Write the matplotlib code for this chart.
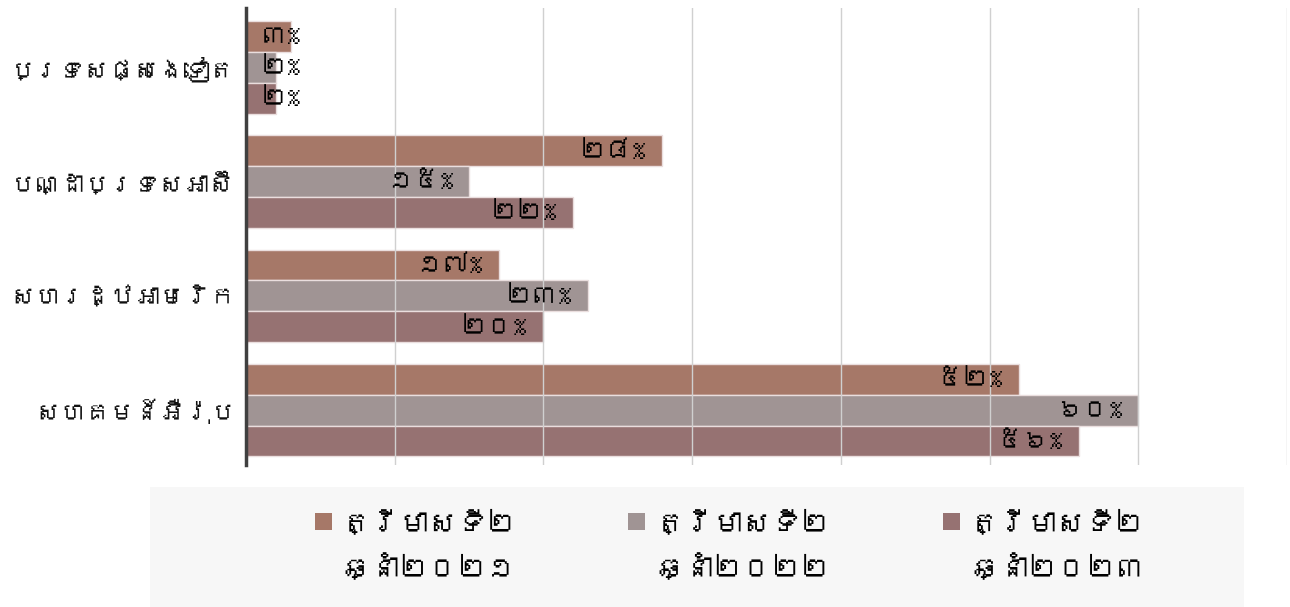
import matplotlib
matplotlib.use("Agg")
import matplotlib.pyplot as plt
from matplotlib import font_manager
from matplotlib.ft2font import FT2Font
from matplotlib.patches import Rectangle
import numpy as np

# look for any installed font that covers Khmer
khmer_font = None
for f in font_manager.fontManager.ttflist:
    try:
        if 0x1780 in FT2Font(f.fname).get_charmap():
            khmer_font = f.name
            break
    except Exception:
        pass
families = ([khmer_font] if khmer_font else []) + ['DejaVu Sans']
plt.rcParams['font.family'] = families

# data (bottom to top)
categories = ['សហគមន៍អឺរ៉ុប', 'សហរដ្ឋអាមេរិក', 'បណ្ដាប្រទេសអាស៊ី', 'ប្រទេសផ្សេងទៀត']
series_names = ['ត្រីមាសទី២\nឆ្នាំ២០២១', 'ត្រីមាសទី២\nឆ្នាំ២០២២', 'ត្រីមាសទី២\nឆ្នាំ២០២៣']
q2_2021 = [52, 17, 28, 3]
q2_2022 = [60, 23, 15, 2]
q2_2023 = [56, 20, 22, 2]
colors = ['#a67868', '#a09494', '#967272']

khmer_digits = '០១២៣៤៥៦៧៨៩'
def kh(n):
    return ''.join(khmer_digits[int(c)] for c in str(n)) + '%'

fig = plt.figure(figsize=(12.9, 6.07), dpi=100)
ax = fig.add_axes([0.1907, 0.234, 0.807, 0.753])

y = np.arange(len(categories))
h = 0.27
for i, (vals, c) in enumerate(zip([q2_2021, q2_2022, q2_2023], colors)):
    pos = y + h * (1 - i)
    ax.barh(pos, vals, height=h, color=c, edgecolor='#eadede', linewidth=1, zorder=2)
    for p, v in zip(pos, vals):
        if v < 5:
            ax.text(1.0, p, kh(v), ha='left', va='center', fontsize=19, color='black', zorder=4)
        else:
            ax.text(v - 1.1, p, kh(v), ha='right', va='center', fontsize=19, color='black', zorder=4)

ax.set_xlim(0, 70)
ax.set_ylim(-0.48, 3.52)
ax.set_xticks(np.arange(0, 71, 10))
ax.set_xticklabels([])
ax.tick_params(axis='x', length=0)
ax.tick_params(axis='y', length=0, pad=8)
ax.grid(axis='x', color='#d0d0d0', linewidth=1, zorder=3)
ax.set_axisbelow(False)
ax.set_yticks(y)
ax.set_yticklabels(categories, fontsize=18, color='#111111')
for s in ['top', 'right', 'bottom']:
    ax.spines[s].set_visible(False)
ax.spines['left'].set_color('#404040')
ax.spines['left'].set_linewidth(2.5)
ax.spines['left'].set_zorder(5)

# legend panel, drawn by hand so the swatch sits on the first line
fig.patches.append(Rectangle((0.116, 0.0), 0.848, 0.198, transform=fig.transFigure,
                             facecolor='#f7f7f7', edgecolor='none', zorder=0))
leg_x = [0.244, 0.487, 0.731]
for lx, name, c in zip(leg_x, series_names, colors):
    fig.patches.append(Rectangle((lx, 0.127), 0.0132, 0.028, transform=fig.transFigure,
                                 facecolor=c, edgecolor='none', zorder=1))
    fig.text(lx + 0.021, 0.100, name, ha='left', va='center', fontsize=21,
             linespacing=1.75, color='black')

fig.savefig('out.png', dpi=100)
